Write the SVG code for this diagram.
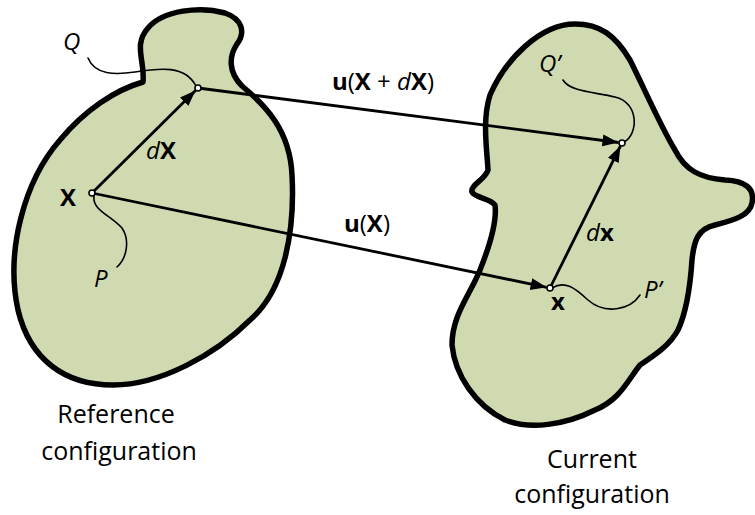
<svg xmlns="http://www.w3.org/2000/svg" width="755" height="515" viewBox="0 0 755 515">
<style>
.body{fill:#cfdab0;stroke:#000;stroke-width:5.5;stroke-linejoin:round}
.arr{fill:none;stroke:#000;stroke-width:2.8}
.lead{fill:none;stroke:#000;stroke-width:1.6;stroke-linecap:round}
.pt{fill:#fff;stroke:#000;stroke-width:1.6}
.m{font-family:"Open Sans","DejaVu Sans",sans-serif;font-size:24px;fill:#000}
.cap{font-family:"Open Sans","DejaVu Sans",sans-serif;font-size:25px;fill:#000;text-anchor:middle}
.b{font-weight:bold}
.i{font-style:italic}
</style>
<defs>
<marker id="ah" markerUnits="userSpaceOnUse" markerWidth="18" markerHeight="14" refX="16" refY="6" orient="auto">
<path d="M0,0 L16,6 L0,12 Z" fill="#000"/>
</marker>
</defs>
<g id="reference-body">
<path class="body" d="M 143,82 C 145,60 133,45 148,28 C 163,10 200,6 225,13 C 242,19 246,32 237,44 C 229,56 228,72 242,86 C 265,105 290,130 292,175 C 295,230 285,290 250,320 C 215,355 160,385 113,385 C 65,385 30,360 18,310 C 5,250 25,180 60,140 C 85,110 115,90 143,82 Z"/>
</g>
<g id="current-body">
<path class="body" d="M 575,24 C 600,24 615,35 630,60 C 645,90 660,125 675,150 C 685,170 700,178 725,180 C 745,181 755,188 752,203 C 750,215 735,220 715,225 C 698,229 694,240 692,260 C 690,290 685,315 678,330 C 670,345 655,355 640,365 C 628,380 620,400 595,410 C 565,425 530,430 505,420 C 475,405 455,375 452,345 C 452,315 470,295 480,270 C 490,245 497,220 495,205 C 490,198 475,198 472,192 C 470,185 485,180 488,170 C 487,150 482,120 490,95 C 505,60 540,24 575,24 Z"/>
</g>
<g id="leaders">
<path class="lead" d="M 88,58 C 95,75 115,75 135,72 C 160,68 185,65 196,86"/>
<path class="lead" d="M 94,196 C 92,210 110,215 122,228 C 130,240 127,258 117,267"/>
<path class="lead" d="M 563,80 C 570,92 595,92 615,97 C 640,103 638,135 624,142"/>
<path class="lead" d="M 552,288 C 565,280 575,288 588,300 C 605,315 630,310 640,295"/>
</g>
<g id="connectors">
<line class="arr" x1="92" y1="193" x2="195.5" y2="90.5" marker-end="url(#ah)"/>
<line class="arr" x1="198" y1="88" x2="618.5" y2="142.5" marker-end="url(#ah)"/>
<line class="arr" x1="92" y1="193" x2="546.6" y2="287.3" marker-end="url(#ah)"/>
<line class="arr" x1="550" y1="288" x2="620.4" y2="146.1" marker-end="url(#ah)"/>
</g>
<g id="points">
<circle class="pt" cx="92" cy="193" r="3"/>
<circle class="pt" cx="198" cy="88" r="3"/>
<circle class="pt" cx="622" cy="143" r="3"/>
<circle class="pt" cx="550" cy="288" r="3"/>
</g>
<g id="labels">
<text class="m i" x="63" y="50" font-size="25">Q</text>
<text class="m" x="146" y="159" font-size="23"><tspan class="i">d</tspan><tspan class="b">X</tspan></text>
<text class="m b" x="60" y="206" font-size="26">X</text>
<text class="m i" x="94" y="287" font-size="24">P</text>
<text class="m" x="332" y="90"><tspan class="b">u</tspan>(<tspan class="b">X</tspan> + <tspan class="i">d</tspan><tspan class="b">X</tspan>)</text>
<text class="m" x="344" y="232"><tspan class="b">u</tspan>(<tspan class="b">X</tspan>)</text>
<text class="m i" x="539" y="72" font-size="25">Q’</text>
<text class="m" x="586" y="241"><tspan class="i">d</tspan><tspan class="b">x</tspan></text>
<text class="m b" x="551" y="310">x</text>
<text class="m i" x="644" y="298" font-size="25">P’</text>
</g>
<g id="captions">
<text class="cap" x="116" y="423">Reference</text>
<text class="cap" x="119" y="460">configuration</text>
<text class="cap" x="592" y="468">Current</text>
<text class="cap" x="592" y="503">configuration</text>
</g>
</svg>
